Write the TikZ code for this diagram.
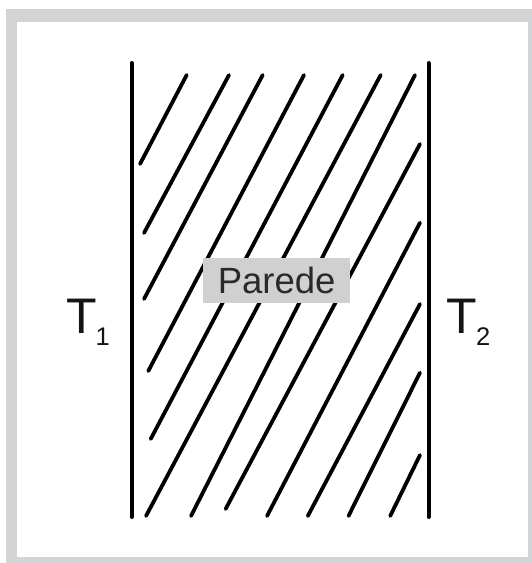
\documentclass[tikz,border=0pt]{standalone}
\usepackage{fontspec}
\setmainfont{Liberation Sans}
\definecolor{framegray}{HTML}{D3D4D5}
\definecolor{boxgray}{HTML}{D0D0D0}
\definecolor{txtgray}{HTML}{2A2A2A}
\tikzset{
  wall/.style={line width=4pt, line cap=round, black},
  hatch/.style={line width=3.8pt, line cap=round, black},
  lbl/.style={inner sep=0pt, anchor=base west, text=black!92},
}
\begin{document}
\begin{tikzpicture}[x=1pt,y=-1pt]
\useasboundingbox (0,0) rectangle (532,563);
\fill[white] (0,0) rectangle (532,563);
\fill[framegray] (6,9) rectangle (532,563);
\fill[white] (16.7,22) rectangle (528,556.7);
% walls
\coordinate (L1) at (131.5,63); \coordinate (L2) at (131.5,517);
\coordinate (R1) at (428.5,63); \coordinate (R2) at (428.5,517);
\draw[wall] (L1) -- (L2);
\draw[wall] (R1) -- (R2);
% hatching
\foreach \a/\b/\c/\d in {
  186.7/75/140/164,
  229/75/144/233,
  262.7/75/144/299,
  304/75/148.3/371,
  342.7/75/150.7/439,
  380.7/75/146/516,
  415/75/191/516,
  420/144/225.6/509,
  420/222.7/267/516,
  420/304/307.8/516,
  420/372.7/348.5/516,
  420/455/390.2/516}
  \draw[hatch] (\a,\b) -- (\c,\d);
% label
\node[fill=boxgray, minimum width=146.7pt, minimum height=45pt, inner sep=0pt,
      text=txtgray, font=\fontsize{36.5}{36.5}\selectfont] (parede) at (276.7,280.8) {Parede};
\node[lbl, font=\fontsize{50}{50}\selectfont] (t1) at (66.3,333)
  {T\kern-1.5pt\raisebox{-12pt}{\fontsize{25.5}{25.5}\selectfont 1}};
\node[lbl, font=\fontsize{50}{50}\selectfont] (t2) at (446.3,333.3)
  {T\kern-1pt\raisebox{-12.4pt}{\fontsize{25.5}{25.5}\selectfont 2}};
\end{tikzpicture}
\end{document}
